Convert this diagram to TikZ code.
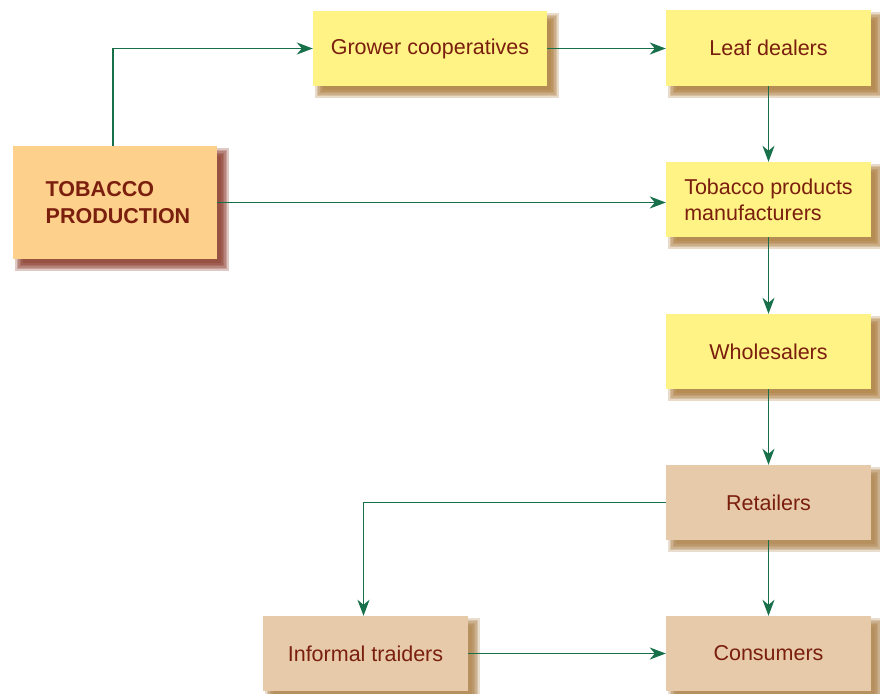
\documentclass[tikz,border=0pt]{standalone}
\usepackage{fontspec}
\setmainfont{Liberation Sans}
\usetikzlibrary{arrows.meta}
\definecolor{txtc}{HTML}{7A1E0E}
\definecolor{linec}{HTML}{17704A}
\definecolor{yellowc}{HTML}{FFF386}
\definecolor{orangec}{HTML}{FDD08C}
\definecolor{tanc}{HTML}{E6CAA9}
\definecolor{shyel}{HTML}{A87534}
\definecolor{shorg}{HTML}{83301F}
\definecolor{shtan}{HTML}{A87A40}
\pgfdeclarelayer{bg}
\pgfsetlayers{bg,main}
\newcommand\softshadow[2]{%
  \begin{pgfonlayer}{bg}
  \foreach \e in {-3,-1.5,0,1.5,3,4.5}{
    \fill[#2, opacity=0.26] ([shift={(7-\e,7-\e)}]#1.north west) rectangle ([shift={(7+\e,7+\e)}]#1.south east);
  }
  \end{pgfonlayer}}
\tikzset{
  box/.style={rectangle, inner sep=0pt, minimum width=205pt, minimum height=75pt,
    text=txtc, font=\fontsize{21.5}{26}\selectfont, align=left},
  ybox/.style={box, fill=yellowc},
  tbox/.style={box, fill=tanc},
  arr/.style={draw=linec, line width=1.4pt, -{Stealth[length=16pt, width=12pt, inset=5pt]}},
}
\begin{document}
\begin{tikzpicture}[x=1pt, y=-1pt]
\useasboundingbox (0,0) rectangle (880,693);
\node[box, fill=orangec, minimum width=204pt, minimum height=113pt, font=\fontsize{21.5}{27}\selectfont\bfseries] (tp) at (115,202.5) {\hspace*{6pt}TOBACCO\\\hspace*{6pt}PRODUCTION};
\node[ybox, minimum width=234pt] (gc) at (430,48.5) {Grower cooperatives};
\node[ybox, minimum height=76pt] (ld) at (768.5,48) {Leaf dealers};
\node[ybox] (mf) at (768.5,199.5) {Tobacco products\\manufacturers};
\node[ybox] (ws) at (768.5,351.5) {Wholesalers};
\node[tbox] (rt) at (768.5,502.5) {Retailers};
\node[tbox] (cs) at (768.5,653.5) {Consumers};
\node[tbox] (it) at (365.5,653.5) {Informal traiders};
\softshadow{tp}{shorg}
\softshadow{gc}{shyel}
\softshadow{ld}{shyel}
\softshadow{mf}{shyel}
\softshadow{ws}{shyel}
\softshadow{rt}{shtan}
\softshadow{cs}{shtan}
\softshadow{it}{shtan}
\draw[arr] ([xshift=-2pt]tp.north) |- (gc.west);
\draw[arr] (gc.east) -- (gc.east -| ld.west);
\draw[arr] (ld.south) -- (mf.north);
\draw[arr] (tp.east) -- (tp.east -| mf.west);
\draw[arr] (mf.south) -- (ws.north);
\draw[arr] (ws.south) -- (rt.north);
\draw[arr] (rt.west) -| ([xshift=-2pt]it.north);
\draw[arr] (rt.south) -- (cs.north);
\draw[arr] (it.east) -- (cs.west);
\end{tikzpicture}
\end{document}
